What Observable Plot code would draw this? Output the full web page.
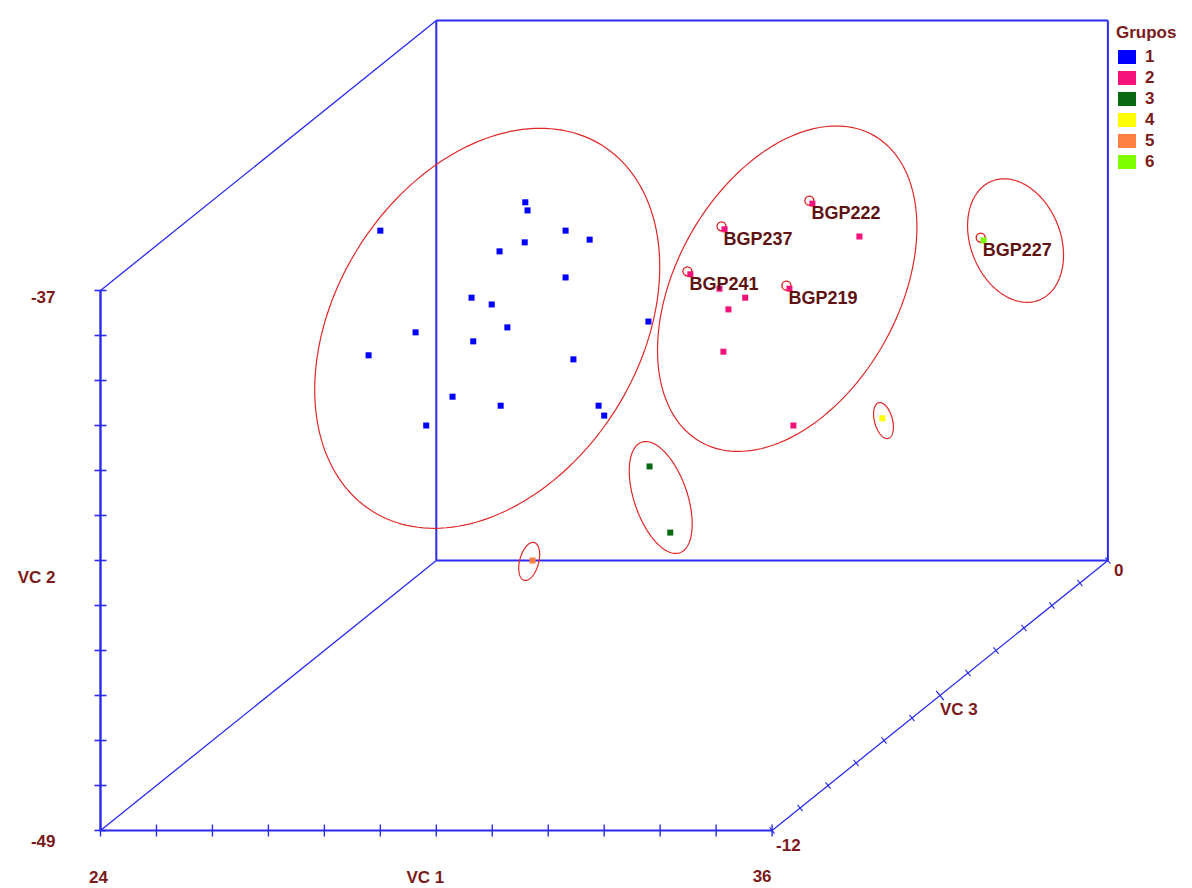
<!DOCTYPE html>
<html><head><meta charset="utf-8">
<script src="https://cdn.jsdelivr.net/npm/d3@7"></script>
<script src="https://cdn.jsdelivr.net/npm/@observablehq/plot@0.6"></script>
<style>
body{margin:0;background:#fff;font-family:"Liberation Sans",Arial,sans-serif;}
#wrap{position:relative;width:1192px;height:888px;overflow:hidden;}
#legend{position:absolute;left:1116px;top:22px;color:#7b1a1a;font-weight:bold;font-size:17px;line-height:18px;}
#legend .row{position:absolute;left:2px;height:16px;white-space:nowrap;}
#legend .sw{position:absolute;left:0;top:1px;width:18px;height:14px;}
#legend .lb{position:absolute;left:27px;top:-1px;}
</style></head><body>
<div id="wrap"><div id="chart"></div><div id="legend"></div></div>
<script>
// ---- data ----
const groups = ["1", "2", "3", "4", "5", "6"];
const groupColors = ["#0000ff", "#f5127a", "#0a6a14", "#ffff00", "#ff8040", "#80ff00"];

// projected positions (VC1 / VC2 plane)
const g1X = [31.59, 31.63, 29.00, 32.31, 32.74, 31.58, 31.13, 32.31, 30.63, 30.99, 31.27, 29.63, 30.66, 33.79, 28.79, 32.45, 30.29, 31.15, 32.90, 33.00, 29.82];
const g1Y = [-35.04, -35.22, -35.67, -35.67, -35.87, -35.93, -36.13, -36.71, -37.16, -37.31, -37.82, -37.93, -38.13, -37.69, -38.44, -38.53, -39.36, -39.56, -39.56, -39.78, -40.00];
const g2X = [36.72, 35.15, 37.56, 34.54, 35.06, 35.52, 36.31, 35.22, 35.13, 36.38];
const g2Y = [-35.07, -35.64, -35.80, -36.64, -36.96, -37.16, -36.96, -37.42, -38.36, -40.00];
const g2Labels = ["BGP222", "BGP237", "", "BGP241", "", "", "BGP219", "", "", ""];
const g3X = [33.81, 34.18];
const g3Y = [-40.91, -42.38];
const g4X = [37.97];
const g4Y = [-39.84];
const g5X = [31.72];
const g5Y = [-43.00];
const g6X = [39.78];
const g6Y = [-35.89];
const g6Labels = ["BGP227"];

// group ellipses: centre and conjugate semi-axis vectors (projected units)
const ellGroup = ["1", "2", "6", "4", "3", "5"];
const ellCX = [30.91, 36.27, 40.35, 37.99, 34.01, 31.66];
const ellCY = [-37.84, -36.96, -35.89, -39.89, -41.60, -43.02];
const ellUX = [2.051, 1.544, -0.419, -0.0856, -0.340, 0.090];
const ellUY = [4.066, 3.407, 1.323, 0.397, 1.229, 0.419];
const ellVX = [-2.301, -1.728, -0.748, -0.155, -0.448, -0.164];
const ellVY = [1.795, 1.211, -0.366, -0.052, -0.192, 0.055];

// axes
const vc1Range = [24, 36];
const vc2Range = [-49, -37];
const vc3Range = [-12, 0];
const vc1Ticks = [24, 25, 26, 27, 28, 29, 30, 31, 32, 33, 34, 35, 36];
const vc2Ticks = [-49, -48, -47, -46, -45, -44, -43, -42, -41, -40, -39, -38, -37];
const vc3Ticks = [-12, -11, -10, -9, -8, -7, -6, -5, -4, -3, -2, -1, 0];
const axisTitles = ["VC 1", "VC 2", "VC 3"];

// ---- build ----
const depth = 0.5; // one VC3 unit shifts half a unit in VC1 and VC2
const proj = (a, b, c) => [a + (c - vc3Range[0]) * depth, b + (c - vc3Range[0]) * depth];

const points = [];
const add = (g, xs, ys, labels) => xs.forEach((x, i) => points.push({g, x, y: ys[i], label: labels ? labels[i] : ""}));
add("1", g1X, g1Y); add("2", g2X, g2Y, g2Labels); add("3", g3X, g3Y);
add("4", g4X, g4Y); add("5", g5X, g5Y); add("6", g6X, g6Y, g6Labels);
const labelled = points.filter(d => d.label);

const ellPts = [];
ellGroup.forEach((g, k) => {
  for (let i = 0; i < 180; i++) {
    const t = i / 180 * 2 * Math.PI;
    ellPts.push({k, x: ellCX[k] + ellUX[k] * Math.cos(t) + ellVX[k] * Math.sin(t),
                    y: ellCY[k] + ellUY[k] * Math.cos(t) + ellVY[k] * Math.sin(t)});
  }
});

const [a0, a1] = vc1Range, [b0, b1] = vc2Range, [c0, c1] = vc3Range;
const seg = (p, q, w) => { const P = proj(...p), Q = proj(...q); return {x1: P[0], y1: P[1], x2: Q[0], y2: Q[1], w}; };
const edges = [
  seg([a0, b0, c0], [a0, b1, c0], 2.4),
  seg([a0, b0, c0], [a1, b0, c0], 2),
  seg([a0, b0, c1], [a1, b0, c1], 2),
  seg([a1, b0, c1], [a1, b1, c1], 2),
  seg([a1, b1, c1], [a0, b1, c1], 2),
  seg([a0, b1, c1], [a0, b0, c1], 2),
  seg([a0, b1, c0], [a0, b1, c1], 1.3),
  seg([a0, b0, c0], [a0, b0, c1], 1.3),
  seg([a1, b0, c0], [a1, b0, c1], 1.3)
];

const hTick = {draw(ctx) { ctx.moveTo(-6, 0); ctx.lineTo(6, 0); }};
const vTick = {draw(ctx) { ctx.moveTo(0, -6); ctx.lineTo(0, 6); }};
const dTick = {draw(ctx) { ctx.moveTo(-2.5, -3.1); ctx.lineTo(2.5, 3.1); }};
const dTickBig = {draw(ctx) { ctx.moveTo(-3.8, -4.7); ctx.lineTo(3.8, 4.7); }};

const t2 = vc2Ticks.map(v => { const p = proj(a0, v, c0); return {x: p[0], y: p[1]}; });
const t1 = vc1Ticks.map(v => { const p = proj(v, b0, c0); return {x: p[0], y: p[1]}; });
const t3 = vc3Ticks.map(v => { const p = proj(a1, b0, v); return {x: p[0], y: p[1], big: v === (c0 + c1) / 2}; });

const P = (a, b, c) => { const p = proj(a, b, c); return {x: p[0], y: p[1]}; };
const maroon = "#7b1a1a";
const txt = (d, text, o) => Plot.text([d], {x: "x", y: "y", text: () => text, fill: maroon, fontWeight: "bold", fontSize: 17, ...o});

const blue = "#2a2af0";
const chart = Plot.plot({
  width: 1192, height: 888, margin: 0,
  x: {domain: [24, 42], range: [100, 1107.4], axis: null},
  y: {domain: [-49, -31], range: [830, 20], axis: null},
  color: {domain: groups, range: groupColors},
  style: {fontFamily: "'Liberation Sans', Arial, sans-serif", background: "#fff"},
  marks: [
    Plot.link(edges, {x1: "x1", y1: "y1", x2: "x2", y2: "y2", stroke: blue, strokeWidth: "w"}),
    Plot.dot(t2, {x: "x", y: "y", symbol: hTick, stroke: blue, strokeWidth: 1.6, fill: "none"}),
    Plot.dot(t1, {x: "x", y: "y", symbol: vTick, stroke: blue, strokeWidth: 1.4, fill: "none"}),
    Plot.dot(t3.filter(d => !d.big), {x: "x", y: "y", symbol: dTick, stroke: blue, strokeWidth: 1.1, fill: "none"}),
    Plot.dot(t3.filter(d => d.big), {x: "x", y: "y", symbol: dTickBig, stroke: blue, strokeWidth: 1.3, fill: "none"}),
    Plot.line(ellPts, {x: "x", y: "y", z: "k", stroke: "#e02828", strokeWidth: 1.2, curve: "linear-closed"}),
    Plot.dot(labelled, {x: "x", y: "y", dx: -3, dy: -3, r: 4.5, stroke: "#e01010", strokeWidth: 1.3, fill: "#fff"}),
    Plot.dot(points, {x: "x", y: "y", symbol: "square", r: 3.4, fill: "g", stroke: "none"}),
    Plot.text(labelled, {x: "x", y: "y", text: "label", dx: -1, dy: 10, textAnchor: "start", fill: "#5e1212", fontWeight: "bold", fontSize: 18}),
    txt(P(a0, b1, c0), String(b1), {textAnchor: "end", dx: -45, dy: 7}),
    txt(P(a0, b0, c0), String(b0), {textAnchor: "end", dx: -45, dy: 11}),
    txt(P(a0, (b0 + b1) / 2, c0), axisTitles[1], {textAnchor: "end", dx: -45, dy: 17}),
    txt(P(a0, b0, c0), String(a0), {dx: -2, dy: 47}),
    txt(P((a0 + a1) / 2, b0, c0), axisTitles[0], {dx: -11, dy: 47}),
    txt(P(a1, b0, c0), String(a1), {dx: -10, dy: 46}),
    txt(P(a1, b0, c0), String(c0), {textAnchor: "start", dx: 4, dy: 15}),
    txt(P(a1, b0, c1), String(c1), {textAnchor: "start", dx: 6, dy: 10}),
    txt(P(a1, b0, (c0 + c1) / 2), axisTitles[2], {textAnchor: "start", dx: 0, dy: 14})
  ]
});
document.getElementById("chart").appendChild(chart);

const leg = document.getElementById("legend");
leg.innerHTML = `<div style="position:absolute;left:0;top:2px;">Grupos</div>` +
  groups.map((g, i) => `<div class="row" style="top:${27 + 21 * i}px"><span class="sw" style="background:${groupColors[i]}"></span><span class="lb">${g}</span></div>`).join("");
</script>
</body></html>
